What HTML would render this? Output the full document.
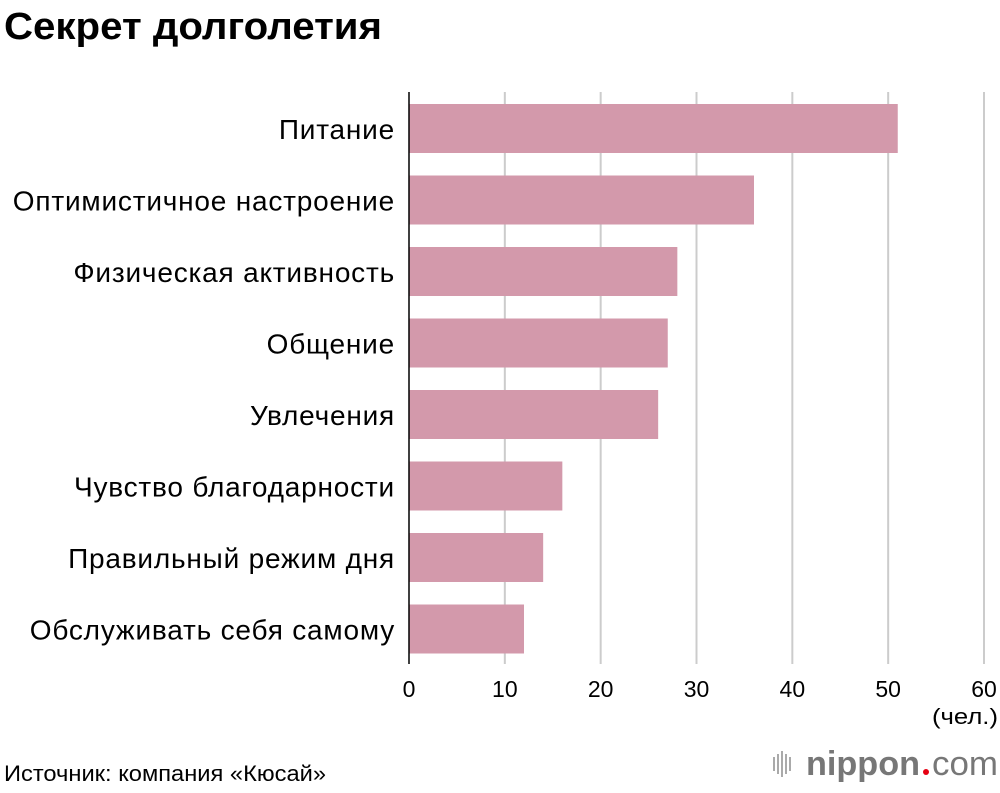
<!DOCTYPE html>
<html><head><meta charset="utf-8"><style>
body{margin:0;width:1000px;height:788px;background:#fff;font-family:"Liberation Sans","Noto Sans CJK SC",sans-serif;overflow:hidden}
</style></head><body>
<svg width="1000" height="788" xmlns="http://www.w3.org/2000/svg" id="chart">
<text x="4" y="39" font-size="38" font-weight="bold" textLength="378" lengthAdjust="spacingAndGlyphs" fill="#000">Секрет долголетия</text>
<g id="grid"></g>
<g id="bars"></g>
<g id="labels"></g>
<g id="ticks"></g>
<line x1="409" y1="92" x2="409" y2="664" stroke="#000" stroke-width="1.5"/>
<text x="998" y="724" font-size="22" text-anchor="end" textLength="66" lengthAdjust="spacingAndGlyphs">(чел.)</text>
<text x="4" y="781" font-size="22" textLength="322" lengthAdjust="spacingAndGlyphs">Источник: компания «Кюсай»</text>
<g>
<g fill="#aaa"><rect x="773" y="757" width="2" height="14"/><rect x="777" y="754" width="2" height="20"/><rect x="781" y="751" width="2" height="26"/><rect x="785" y="754" width="2" height="20"/><rect x="789" y="757" width="2" height="14"/></g>
<text x="806" y="775" font-size="34" font-weight="bold" fill="#777" textLength="114" lengthAdjust="spacingAndGlyphs">nippon</text>
<circle cx="926" cy="772" r="3" fill="#e60012"/>
<text x="932" y="775" font-size="34" fill="#777" textLength="66" lengthAdjust="spacingAndGlyphs">com</text>
</g>
</svg>
<script>
const categories=["Питание","Оптимистичное настроение","Физическая активность","Общение","Увлечения","Чувство благодарности","Правильный режим дня","Обслуживать себя самому"];
const values=[51,36,28,27,26,16,14,12];
const tickValues=[0,10,20,30,40,50,60];
const NS="http://www.w3.org/2000/svg";
const x0=409,x1=984,xMax=60;
const xs=v=>x0+(v/xMax)*(x1-x0);
const yTop=i=>104+i*71.5;
const grid=document.getElementById('grid'),bars=document.getElementById('bars'),labels=document.getElementById('labels'),ticks=document.getElementById('ticks');
tickValues.forEach(t=>{
 if(t>0){const l=document.createElementNS(NS,'line');
 l.setAttribute('x1',xs(t));l.setAttribute('x2',xs(t));l.setAttribute('y1',92);l.setAttribute('y2',664);
 l.setAttribute('stroke','#ccc');l.setAttribute('stroke-width','2');
 
 
 grid.appendChild(l);}
 const tx=document.createElementNS(NS,'text');
 tx.setAttribute('x',xs(t));tx.setAttribute('y',697);tx.setAttribute('font-size','23');tx.setAttribute('text-anchor','middle');
 tx.textContent=t;
 
 
 ticks.appendChild(tx);
});
categories.forEach((c,i)=>{
 const r=document.createElementNS(NS,'rect');
 r.setAttribute('x',x0);r.setAttribute('y',yTop(i));r.setAttribute('width',xs(values[i])-x0);r.setAttribute('height',49);r.setAttribute('fill','#d399ab');
 
 
 bars.appendChild(r);
 const t=document.createElementNS(NS,'text');
 t.setAttribute('x',395);t.setAttribute('y',yTop(i)+35);t.setAttribute('font-size','28');t.setAttribute('text-anchor','end');t.setAttribute('letter-spacing','0.8');
 t.textContent=c;
 
 
 labels.appendChild(t);
});
</script>
</body></html>
